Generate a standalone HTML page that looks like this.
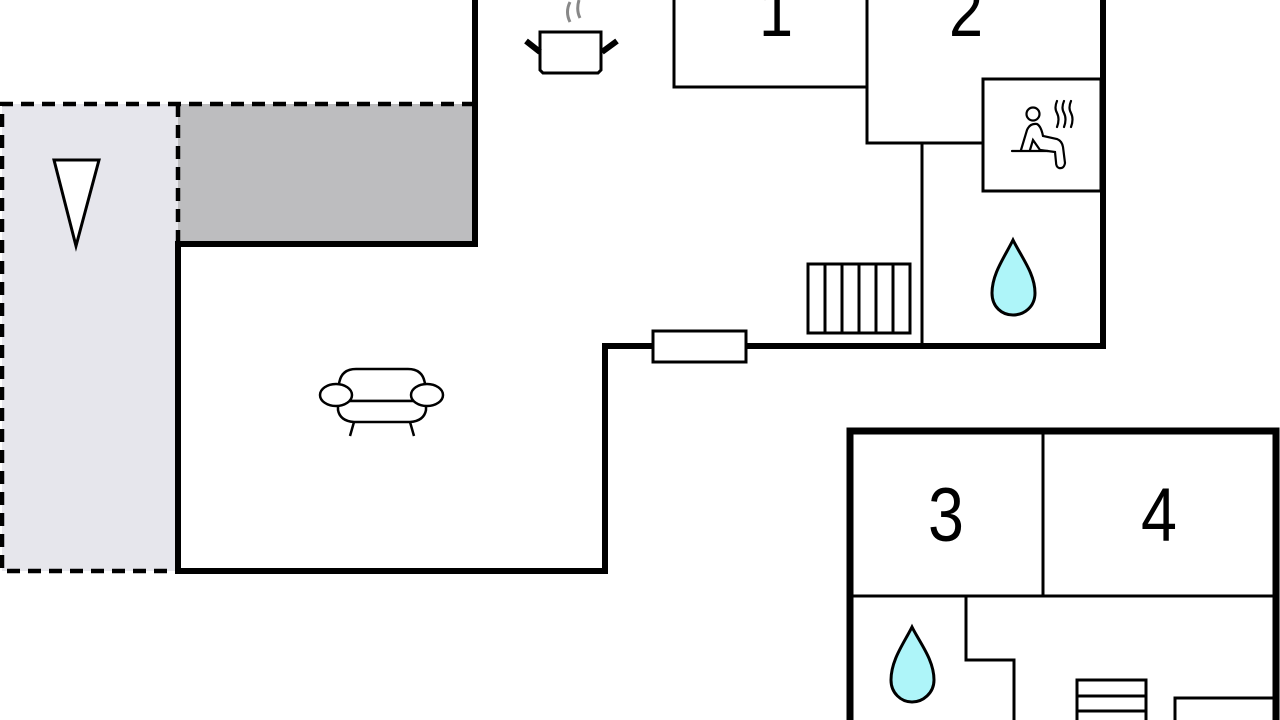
<!DOCTYPE html>
<html><head><meta charset="utf-8"><style>
html,body{margin:0;padding:0;background:#fff;width:1280px;height:720px;overflow:hidden}
svg{display:block}
text{font-family:"Liberation Sans",sans-serif;fill:#000}
</style></head><body>
<svg width="1280" height="720" viewBox="0 0 1280 720" xmlns="http://www.w3.org/2000/svg">
<rect x="2" y="104" width="176" height="467" fill="#e6e6ec"/>
<rect x="178" y="104" width="297" height="140" fill="#bdbdbf"/>
<path d="M475 104 H2 V571 H178 M178 104 V244" fill="none" stroke="#000" stroke-width="4.5" stroke-dasharray="13,8"/>
<polygon points="54,160 99,160 76,246" fill="#fff" stroke="#000" stroke-width="3"/>
<g fill="none" stroke="#000" stroke-width="3">
<path d="M674 0 V87 H867"/>
<path d="M867 0 V143 H983"/>
<rect x="983" y="79" width="118" height="112"/>
<path d="M922 143 V346"/>
<rect x="808" y="264" width="102" height="69"/>
<path d="M825 264V333 M842 264V333 M859 264V333 M876 264V333 M893 264V333"/>
</g>
<path d="M475 0 V244 H178 V571 H605 V346 H1103 V0" fill="none" stroke="#000" stroke-width="6"/>
<rect x="653" y="331" width="93" height="31" fill="#fff" stroke="#000" stroke-width="3"/>
<g transform="translate(776 0) scale(0.85 1)"><text x="0" y="36" font-size="72" text-anchor="middle">1</text></g>
<g transform="translate(966 0) scale(0.85 1)"><text x="0" y="36" font-size="72" text-anchor="middle">2</text></g>
<path d="M570 22 Q565 12 570 2 M580 18 Q576 10 579 0" stroke="#888" stroke-width="3" fill="none"/>
<path d="M540 32 H601 V70 L598 73 H543 L540 70 Z" fill="#fff" stroke="#000" stroke-width="3"/>
<path d="M526 41 L540 52 M617 41 L602 52" stroke="#000" stroke-width="6"/>
<g fill="none" stroke="#000" stroke-width="2.2" stroke-linecap="round">
<circle cx="1033" cy="114" r="6.5"/>
<path d="M1021 150 L1027 130 Q1030 123 1037 124 Q1041 126 1043 136 L1057 139 Q1062 141 1063 147 L1065 163 Q1064 169 1059 168 Q1056 167 1056 162 L1055 152 L1040 150 L1033 140 L1030 150"/>
<path d="M1012 151 H1048"/>
<path d="M1057 101 q-3 7 0 12 q3 6 0 14 M1064 101 q-3 7 0 12 q3 6 0 14 M1071 101 q-3 7 0 12 q3 6 0 14"/>
</g>
<path d="M1013 240 C1004 258 992 274 992 293 C992 307 1002 315 1013 315 C1024 315 1035 307 1035 293 C1035 274 1022 258 1013 240 Z" fill="#aef5f9" stroke="#000" stroke-width="3"/>
<g fill="#fff" stroke="#000" stroke-width="2.5">
<path d="M339 401 V384 Q341 369 356 369 H408 Q423 369 425 384 V401 Z"/>
<path d="M338 401 V410 Q340 421 354 422 H410 Q424 421 426 410 V401 Z"/>
<ellipse cx="336" cy="395" rx="16" ry="11"/>
<ellipse cx="427" cy="395" rx="16" ry="11"/>
<path d="M354 422 L350 436 M410 422 L414 436" fill="none"/>
</g>
<g fill="none" stroke="#000" stroke-width="3">
<path d="M1043 428 V596 M853 596 H1277"/>
<path d="M966 596 V660 H1014 V720"/>
<rect x="1077" y="680" width="69" height="60"/>
<path d="M1077 696 H1146 M1077 711 H1146"/>
<path d="M1175 720 V698 H1277"/>
</g>
<path d="M850 720 V431 H1276 V720" fill="none" stroke="#000" stroke-width="7"/>
<path d="M912 627 C904 643 891 660 891 680 C891 693 901 702 912 702 C923 702 934 693 934 680 C934 660 920 643 912 627 Z" fill="#aef5f9" stroke="#000" stroke-width="3"/>
<g transform="translate(946 0) scale(0.85 1)"><text x="0" y="541" font-size="76" text-anchor="middle">3</text></g>
<g transform="translate(1159 0) scale(0.85 1)"><text x="0" y="541" font-size="76" text-anchor="middle">4</text></g>
</svg>
</body></html>
